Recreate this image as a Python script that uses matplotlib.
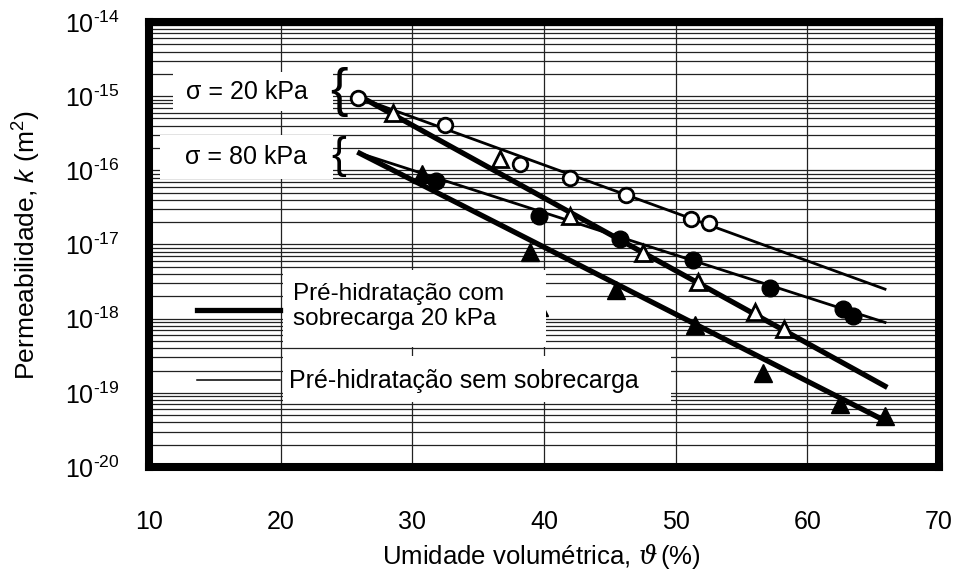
import numpy as np
import matplotlib
matplotlib.use('Agg')
import matplotlib.pyplot as plt
from matplotlib.ticker import LogLocator, NullFormatter, FixedLocator
from matplotlib.patches import Rectangle

plt.rcParams['font.family'] = ['Liberation Sans', 'DejaVu Sans']
plt.rcParams['mathtext.fontset'] = 'custom'
plt.rcParams['mathtext.rm'] = 'Liberation Sans'
plt.rcParams['mathtext.it'] = 'Liberation Sans:italic'
plt.rcParams['mathtext.sf'] = 'DejaVu Serif:italic'
plt.rcParams['mathtext.default'] = 'regular'

# pontos medidos (umidade volumetrica %, permeabilidade m2)
# sigma = 20 kPa
x_circ_open = [25.9, 32.5, 38.2, 42.0, 46.2, 51.2, 52.5]
k_circ_open = [9.5e-16, 4.1e-16, 1.2e-16, 7.8e-17, 4.6e-17, 2.2e-17, 1.95e-17]
x_tri_open = [28.55, 36.65, 41.97, 47.5, 51.7, 56.0, 58.2]
k_tri_open = [5.9e-16, 1.4e-16, 2.45e-17, 7.6e-18, 3.1e-18, 1.23e-18, 7.2e-19]
# sigma = 80 kPa
x_circ_fill = [31.8, 39.6, 45.8, 51.3, 57.15, 62.7, 63.5]
k_circ_fill = [7.2e-17, 2.45e-17, 1.2e-17, 6.2e-18, 2.6e-18, 1.35e-18, 1.1e-18]
x_tri_fill = [30.75, 38.9, 45.5, 51.5, 56.6, 62.5, 65.9]
k_tri_fill = [8.9e-17, 7.9e-18, 2.4e-18, 8.1e-19, 1.86e-19, 7.1e-20, 4.9e-20]
# ponto quase escondido pela legenda
x_hidden = [39.7]
k_hidden = [1.4e-18]

# retas de ajuste
x_fit = [26.0, 65.9]
k_fit_thin_20 = [9.5e-16, 2.5e-18]
k_fit_thick_20 = [1.0e-15, 1.23e-19]
k_fit_thin_80 = [1.7e-16, 8.9e-19]
k_fit_thick_80 = [1.7e-16, 4.2e-20]

x_ticks = [10, 20, 30, 40, 50, 60, 70]
y_ticks = [1e-20, 1e-19, 1e-18, 1e-17, 1e-16, 1e-15, 1e-14]
y_labels = [r'$10^{\text{-20}}$', r'$10^{\text{-19}}$', r'$10^{\text{-18}}$',
            r'$10^{\text{-17}}$', r'$10^{\text{-16}}$', r'$10^{\text{-15}}$',
            r'$10^{\text{-14}}$']

fig = plt.figure(figsize=(9.56, 5.76), dpi=100)
ax = fig.add_axes([0.15586, 0.18924, 0.82636, 0.77257])
ax.set_yscale('log')
ax.set_xlim(10, 70)
ax.set_ylim(1e-20, 1e-14)

ax.set_xticks(x_ticks)
ax.yaxis.set_major_locator(FixedLocator(y_ticks))
ax.set_yticklabels(y_labels)
ax.yaxis.set_minor_locator(LogLocator(base=10, subs=np.arange(2, 10), numticks=100))
ax.yaxis.set_minor_formatter(NullFormatter())
ax.tick_params(axis='both', which='both', length=0, labelsize=18)
ax.tick_params(axis='x', pad=31)
ax.tick_params(axis='y', pad=21)

ax.set_axisbelow(True)
ax.grid(axis='y', which='both', color='#222222', lw=0.9)
ax.grid(axis='x', which='major', color='#222222', lw=0.9)
for s in ax.spines.values():
    s.set_linewidth(5.8)
    s.set_color('black')

# linhas
ax.plot(x_fit, k_fit_thin_20, color='black', lw=2.0, zorder=3)
ax.plot(x_fit, k_fit_thick_20, color='black', lw=3.8, zorder=3)
ax.plot(x_fit, k_fit_thin_80, color='black', lw=2.0, zorder=3)
ax.plot(x_fit, k_fit_thick_80, color='black', lw=3.8, zorder=3)

# pontos
ax.plot(x_hidden, k_hidden, '^', color='black', ms=12, zorder=1.2)
ax.plot(x_circ_open, k_circ_open, 'o', mfc='white', mec='black', mew=2.0, ms=10.5, zorder=4)
ax.plot(x_tri_open, k_tri_open, '^', mfc='white', mec='black', mew=2.0, ms=11, zorder=4)
ax.plot(x_circ_fill, k_circ_fill, 'o', color='black', ms=12, zorder=4)
ax.plot(x_tri_fill, k_tri_fill, '^', color='black', ms=12.5, zorder=4)

# caixas brancas
boxes = [(0.0304, 0.800, 0.2025, 0.088),
         (0.0139, 0.648, 0.2190, 0.099),
         (0.1696, 0.270, 0.3329, 0.173),
         (0.1696, 0.146, 0.4911, 0.104)]
for bx, by, bw, bh in boxes:
    ax.add_patch(Rectangle((bx, by), bw, bh, transform=ax.transAxes,
                           facecolor='white', edgecolor='none', zorder=1.5))

ax.text(0.124, 0.843, 'σ = 20 kPa', transform=ax.transAxes, fontsize=18,
        ha='center', va='center', zorder=5)
ax.text(0.123, 0.697, 'σ = 80 kPa', transform=ax.transAxes, fontsize=18,
        ha='center', va='center', zorder=5)
ax.text(0.2405, 0.843, '{', transform=ax.transAxes, fontsize=38,
        ha='center', va='center', zorder=5)
ax.text(0.2405, 0.697, '{', transform=ax.transAxes, fontsize=32,
        ha='center', va='center', zorder=5)

# legenda
ax.plot([0.0604, 0.1658], [0.3528, 0.3528], transform=ax.transAxes,
        color='black', lw=3.8, zorder=3)
ax.plot([0.0604, 0.1658], [0.1955, 0.1955], transform=ax.transAxes,
        color='black', lw=1.1, zorder=3)
ax.text(0.1823, 0.3610, 'Pré-hidratação com\nsobrecarga 20 kPa', transform=ax.transAxes,
        fontsize=17.5, ha='left', va='center', linespacing=1.15, zorder=5)
ax.text(0.1773, 0.1925, 'Pré-hidratação sem sobrecarga', transform=ax.transAxes,
        fontsize=18, ha='left', va='center', zorder=5)

ax.set_xlabel(r'Umidade volumétrica, $\mathsf{\vartheta}\,$(%)', fontsize=18.5, va='center')
ax.xaxis.set_label_coords(0.496, -0.2022)
ax.set_ylabel(r'Permeabilidade, $\mathit{k}$ (m$^{2}$)', fontsize=19, va='center')
ax.yaxis.set_label_coords(-0.1544, 0.499)

plt.savefig('out.png', dpi=100)
